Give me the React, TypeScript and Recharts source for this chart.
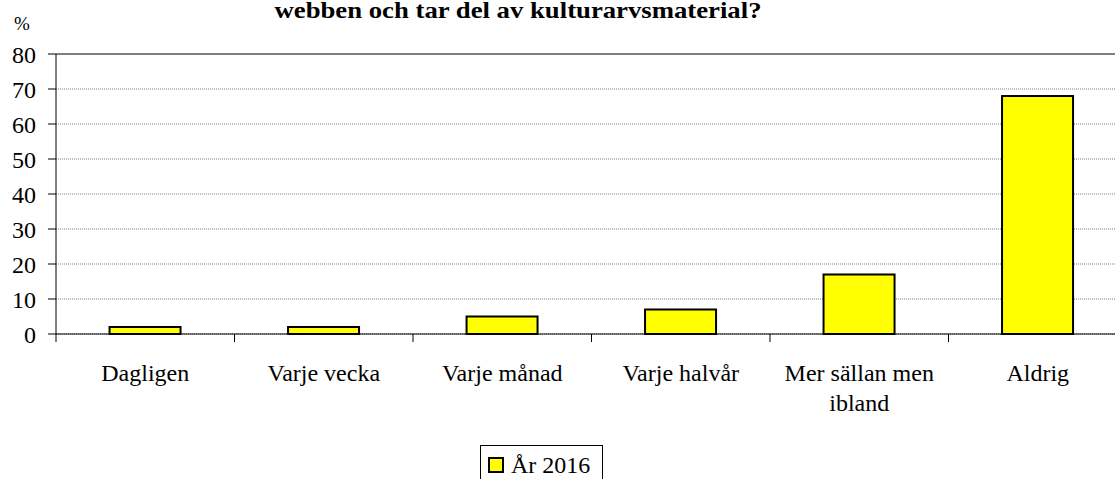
import { BarChart, Bar, XAxis, YAxis, CartesianGrid, ReferenceLine } from 'recharts'

const CATEGORIES = ['Dagligen', 'Varje vecka', 'Varje månad', 'Varje halvår', 'Mer sällan men\nibland', 'Aldrig']
const VALUES_2016 = [2, 2, 5, 7, 17, 68]
const Y_TICKS = [0, 10, 20, 30, 40, 50, 60, 70, 80]
const SERIES_NAME = 'År 2016'
const TITLE = 'webben och tar del av kulturarvsmaterial?'

const FONT = '"Liberation Serif", "Times New Roman", serif'
const TICK_SIZE = 8

const data = CATEGORIES.map((name, i) => ({ name, value: VALUES_2016[i] }))

function CategoryTick(props: any) {
  const { x, y, payload } = props
  const half = payload?.offset ?? 89.25
  const axisY = y - TICK_SIZE
  const lines = String(payload.value).split('\n')
  return (
    <g>
      <line x1={x - half} x2={x - half} y1={axisY} y2={axisY + TICK_SIZE} stroke="#000" />
      <text x={x} y={y + 39} textAnchor="middle" fontSize={24} fontFamily={FONT} fill="#000">
        {lines.map((l, i) => (
          <tspan key={i} x={x} dy={i === 0 ? 0 : 30}>
            {l}
          </tspan>
        ))}
      </text>
    </g>
  )
}

export default function App() {
  return (
    <div
      style={{
        position: 'absolute',
        left: 0,
        top: 0,
        width: 1115,
        height: 479,
        overflow: 'hidden',
        background: '#fff',
        fontFamily: FONT,
      }}
    >
      <BarChart
        width={1130}
        height={479}
        data={data}
        margin={{ top: 54, right: 3, left: 0, bottom: 85 }}
        barCategoryGap="30%"
      >
        <CartesianGrid vertical={false} stroke="#808080" strokeDasharray="1 1" />
        <XAxis
          dataKey="name"
          interval={0}
          height={60}
          tickSize={TICK_SIZE}
          tickMargin={0}
          tickLine={false}
          axisLine={{ stroke: '#000' }}
          tick={<CategoryTick />}
        />
        <YAxis
          domain={[0, 80]}
          ticks={Y_TICKS}
          interval={0}
          width={56}
          tickSize={TICK_SIZE}
          tickMargin={12}
          axisLine={{ stroke: '#000' }}
          tickLine={{ stroke: '#000' }}
          tick={{ fill: '#000', fontSize: 24, fontFamily: FONT }}
        />
        <ReferenceLine y={80} stroke="#808080" strokeWidth={2} />
        <Bar dataKey="value" fill="#ffff00" stroke="#000" strokeWidth={2} isAnimationActive={false} />
      </BarChart>

      <svg width={1115} height={479} style={{ position: 'absolute', left: 0, top: 0, pointerEvents: 'none' }}>
        <text
          x={518}
          y={18}
          textAnchor="middle"
          fontSize={24}
          fontWeight="bold"
          fontFamily={FONT}
          fill="#000"
          textLength={487}
          lengthAdjust="spacingAndGlyphs"
        >
          {TITLE}
        </text>
        <text x={14} y={30} fontSize={19} fontFamily={FONT} fill="#000">
          %
        </text>
      </svg>

      <div
        style={{
          position: 'absolute',
          left: 480,
          top: 445,
          width: 123,
          height: 40,
          border: '1px solid #000',
          boxSizing: 'border-box',
        }}
      >
        <div
          style={{
            position: 'absolute',
            left: 7,
            top: 11,
            width: 16,
            height: 16,
            background: '#ffff00',
            border: '2px solid #000',
            boxSizing: 'border-box',
          }}
        />
        <div
          style={{
            position: 'absolute',
            left: 30,
            top: 5,
            fontSize: 24,
            lineHeight: '28px',
            whiteSpace: 'nowrap',
          }}
        >
          {SERIES_NAME}
        </div>
      </div>
    </div>
  )
}
